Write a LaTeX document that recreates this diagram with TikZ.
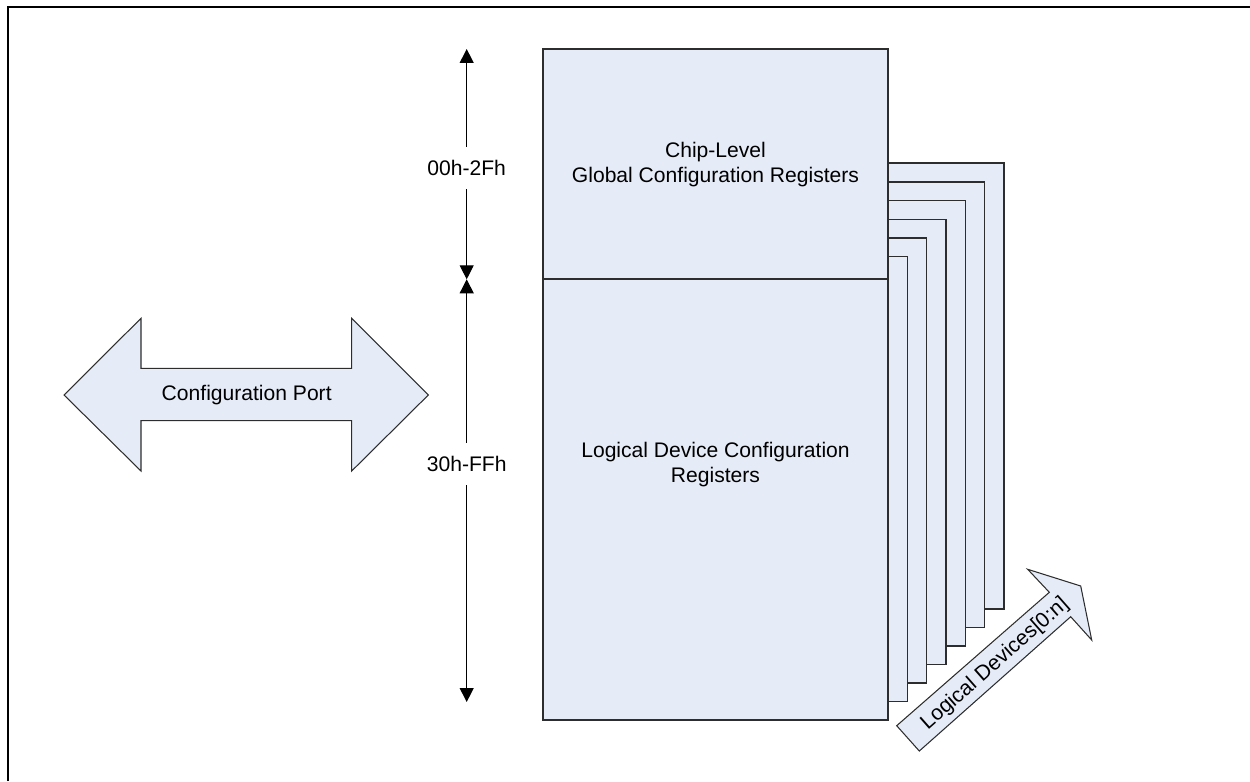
\documentclass[tikz,border=0pt]{standalone}
\usepackage{fontspec}
\setmainfont{Liberation Sans}
\usetikzlibrary{arrows.meta}
\definecolor{regfill}{RGB}{230,236,247}
\definecolor{regline}{RGB}{45,45,45}

\begin{document}
\begin{tikzpicture}[x=0.02cm,y=-0.02cm,
    font=\fontsize{12}{14.2}\selectfont,
    regbox/.style={draw=regline,fill=regfill,line width=0.8pt},
    bigarrow/.style={draw=regline,fill=regfill,line width=0.6pt},
    dimline/.style={{Triangle[width=0.28cm,length=0.28cm]}-{Triangle[width=0.28cm,length=0.28cm]},line width=0.6pt},
    dimlabel/.style={fill=white,inner xsep=2pt,inner ysep=7.5pt}]
    \useasboundingbox (0,0) rectangle (1250,781);
    \draw[line width=1.1pt] (8,781) -- (8,7) -- (1250,7);

    % stacked logical device pages
    \foreach \k in {6,5,...,1}
        \draw[regbox] ({543+19*\k},{275.3-18.7*\k}) rectangle ({888+19.3*\k},{720-18.5*\k});

    \draw[regbox] (543,49) rectangle (888,279);
    \draw[regbox] (543,279) rectangle (888,720);
    \node[align=center] (chip) at (715.5,164.5) {Chip-Level\\Global Configuration Registers};
    \node[align=center] (ldev) at (715.5,464.5) {Logical Device Configuration\\Registers};

    % address ranges
    \coordinate (top) at (466.7,49);
    \coordinate (mid) at (466.7,279.3);
    \coordinate (bot) at (466.7,702);
    \draw[dimline] (mid) -- (top);
    \draw[dimline] (mid) -- (bot);
    \node[dimlabel] (cfgrange) at (466.7,168) {00h-2Fh};
    \node[dimlabel] (ldrange) at (466.7,464) {30h-FFh};

    \draw[bigarrow] (64,395) -- (141,318.3) -- (141,368.3) -- (351.7,368.3)
        -- (351.7,318.3) -- (428.3,395) -- (351.7,471) -- (351.7,420.7)
        -- (141,420.7) -- (141,471) -- cycle;
    \node (port) at (246.7,395) {Configuration Port};

    \draw[bigarrow] (896.7,725.7) -- (1049.3,592.3) -- (1027.7,569.3)
        -- (1080.7,586) -- (1091.7,640) -- (1070.7,616.7) -- (919.3,751) -- cycle;
    \node[rotate=41.4] (devices) at (995,664) {Logical Devices[0:n]};
\end{tikzpicture}
\end{document}
